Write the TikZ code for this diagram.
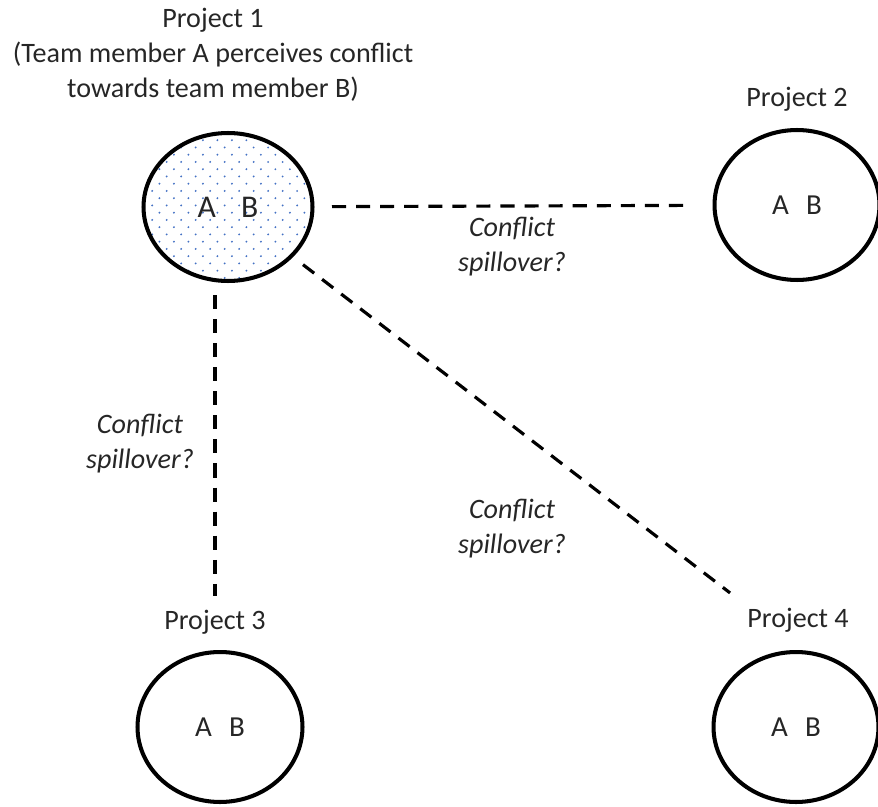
\documentclass[tikz,border=0pt]{standalone}
\usepackage{fontspec}
\setmainfont{Carlito}
\usetikzlibrary{shapes.geometric,patterns}
\definecolor{dotblue}{RGB}{68,114,196}
\definecolor{inkgray}{RGB}{38,38,38}
\pgfdeclarepatternformonly{sparse dots}{\pgfqpoint{-1pt}{-1pt}}{\pgfqpoint{5.2pt}{5.2pt}}{\pgfqpoint{8.25pt}{8.25pt}}{%
  \pgfpathcircle{\pgfqpoint{0pt}{0pt}}{0.6pt}%
  \pgfpathcircle{\pgfqpoint{4.125pt}{4.125pt}}{0.6pt}%
  \pgfusepath{fill}}
\begin{document}
\begin{tikzpicture}[x=0.02cm,y=-0.02cm,
  proj/.style={ellipse,draw,line width=2.3pt,minimum width=3.3cm,minimum height=3cm,inner sep=0pt,text=inkgray,font=\fontsize{16.5}{20}\selectfont},
  lbl/.style={text=inkgray,font=\fontsize{16}{20}\selectfont,align=center},
  q/.style={lbl,font=\fontsize{16}{20}\selectfont\itshape},
  spill/.style={dash pattern=on 8pt off 5.7pt,line width=1.8pt}]
\useasboundingbox (0,0) rectangle (878,807);
% projects
\node[proj,pattern=sparse dots,pattern color=dotblue,minimum width=3.38cm,minimum height=2.96cm,font=\fontsize{18}{22}\selectfont] (p1) at (228,207) {A\hspace{0.8em}B};
\node[proj] (p2) at (797,205) {A\hspace{0.6em}B};
\node[proj] (p3) at (220,727) {A\hspace{0.6em}B};
\node[proj] (p4) at (796,727) {A\hspace{0.6em}B};
\node[lbl] (l1) at (213,55) {Project 1\\(Team member A perceives conflict\\towards team member B)};
\node[lbl,anchor=base] (l2) at (797,107) {Project 2};
\node[lbl,anchor=base] (l3) at (215,629) {Project 3};
\node[lbl,anchor=base] (l4) at (798,627) {Project 4};
% spillover links
\draw[spill,shorten <=0.35cm,shorten >=0.42cm] (p1) -- (p2);
\draw[spill,shorten <=0.24cm,shorten >=0.14cm] (p1.south -| l3.north) -- (l3.north);
\draw[spill,shorten <=0.25cm,shorten >=0.28cm] (p1) -- (l4.north west);
\node[q] (q12) at (512,247) {Conflict\\spillover?};
\node[q] (q13) at (140,444) {Conflict\\spillover?};
\node[q] (q14) at (512,529) {Conflict\\spillover?};
\end{tikzpicture}
\end{document}
